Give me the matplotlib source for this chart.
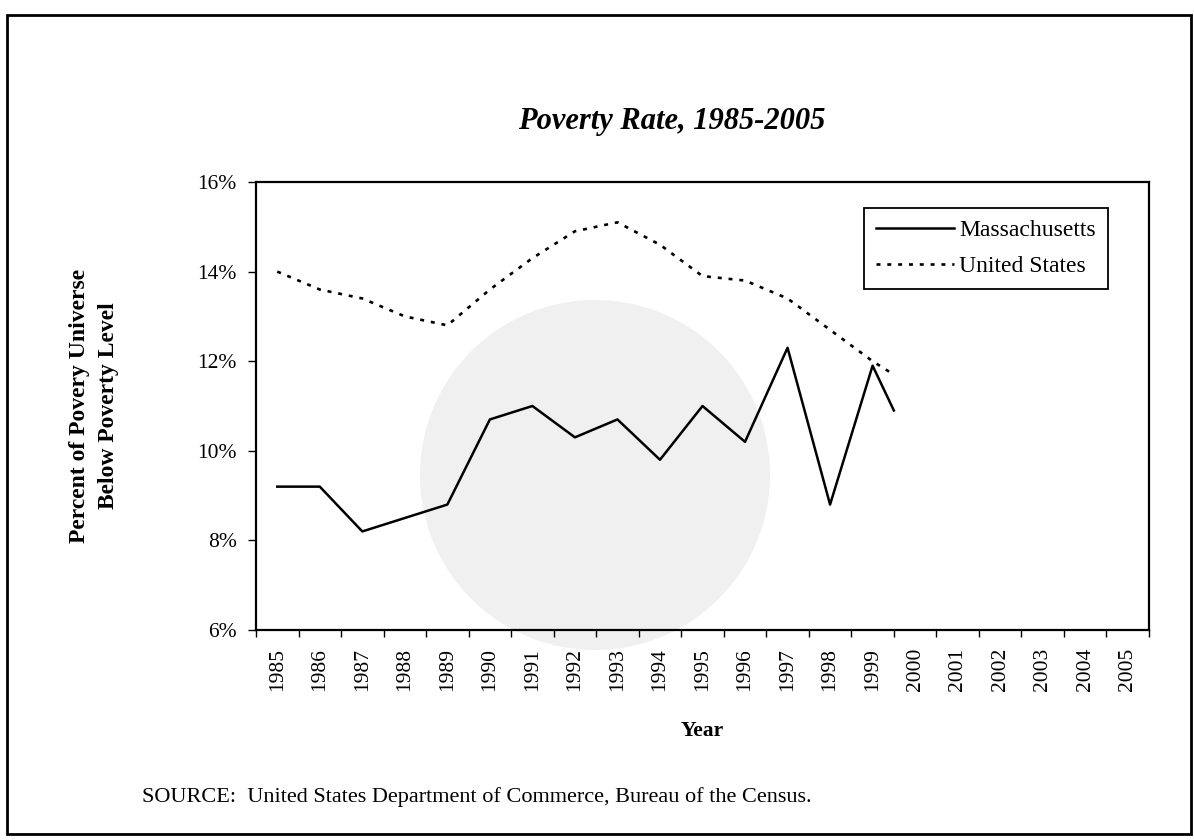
import numpy as np
import matplotlib
matplotlib.use('Agg')
import matplotlib.pyplot as plt
from matplotlib.patches import Rectangle, Ellipse

plt.rcParams['font.family'] = ['Liberation Serif', 'DejaVu Serif']

# category labels on the x axis
years = list(range(1985, 2006))
# positions of the plotted points (the source's last point sits on the 1999/2000 boundary)
data_x = [1985, 1986, 1987, 1988, 1989, 1990, 1991, 1992, 1993, 1994,
          1995, 1996, 1997, 1998, 1999, 1999.5]
# percent below poverty level
mass = [9.2, 9.2, 8.2, 8.5, 8.8, 10.7, 11.0, 10.3, 10.7, 9.8,
        11.0, 10.2, 12.3, 8.8, 11.9, 10.9]
usa = [14.0, 13.6, 13.4, 13.0, 12.8, 13.6, 14.3, 14.9, 15.1, 14.6,
       13.9, 13.8, 13.4, 12.7, 12.0, 11.7]
yticks = [6, 8, 10, 12, 14, 16]

W, H = 1194, 840
fig = plt.figure(figsize=(W / 100, H / 100), dpi=100)

# page frame of the scanned sheet
fig.patches.append(Rectangle((7 / W, 1 - 834 / H), 1184 / W, 819 / H, transform=fig.transFigure,
                             fill=False, edgecolor='black', linewidth=2))

ax = fig.add_axes([256 / W, 1 - 630 / H, 893 / W, 448 / H])
ax.patch.set_alpha(0)

# faint seal showing through the paper
ax.add_patch(Ellipse((595 / W, 1 - 475 / H), 350 / W, 350 / H, transform=fig.transFigure,
                     facecolor='#f0f0f0', edgecolor='none', zorder=0.5, clip_on=False))

ax.plot(data_x, mass, color='black', linewidth=1.8, label='Massachusetts', zorder=3)
ax.plot(data_x, usa, color='black', linewidth=1.9, linestyle=(0, (1.5, 2.6)),
        label='United States', zorder=3)

ax.set_xlim(years[0] - 0.5, years[-1] + 0.5)
ax.set_ylim(6, 16)
ax.set_yticks(yticks)
ax.set_yticklabels([f'{v}%' for v in yticks], fontsize=15.5)
ax.set_xticks(years)
ax.set_xticklabels([str(y) for y in years], rotation=90, fontsize=15.5)
ax.set_xticks(np.arange(years[0] - 0.5, years[-1] + 1), minor=True)
ax.tick_params(axis='x', which='major', length=0, pad=13)
ax.tick_params(axis='x', which='minor', length=5, width=1, direction='out')
ax.tick_params(axis='y', length=6, width=1, direction='out', pad=8)

for s in ax.spines.values():
    s.set_linewidth(1.6)

leg = ax.legend(loc='upper right', bbox_to_anchor=(0.954, 0.942), fontsize=17,
                handlelength=3.3, handletextpad=0.25, borderpad=0.5,
                labelspacing=0.62, borderaxespad=0, fancybox=False, framealpha=1)
leg.get_frame().set_edgecolor('black')
leg.get_frame().set_linewidth(1.3)

fig.text(672 / W, 1 - 121 / H, 'Poverty Rate, 1985-2005', fontsize=22,
         fontweight='bold', fontstyle='italic', ha='center', va='center')
fig.text(94 / W, 1 - 406 / H, 'Percent of Povery Universe\nBelow Poverty Level',
         fontsize=17, fontweight='bold', rotation=90, ha='center', va='center',
         linespacing=1.45, multialignment='center')
fig.text(702 / W, 1 - 731 / H, 'Year', fontsize=15.5, fontweight='bold',
         ha='center', va='center')
fig.text(142 / W, 1 - 797 / H,
         'SOURCE:  United States Department of Commerce, Bureau of the Census.',
         fontsize=16, ha='left', va='center')

fig.savefig('out.png', dpi=100)
